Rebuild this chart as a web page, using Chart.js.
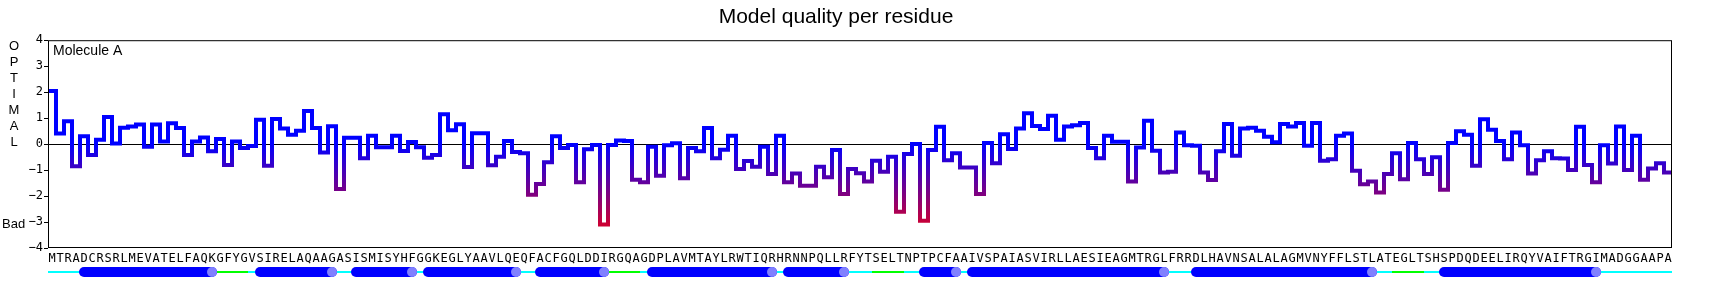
<!DOCTYPE html>
<html>
<head>
<meta charset="utf-8">
<title>Model quality per residue</title>
<script src="https://cdn.jsdelivr.net/npm/chart.js@4.4.0/dist/chart.umd.min.js"></script>
<style>
  html, body { margin: 0; padding: 0; background: #fff; }
  #wrap { width: 1720px; height: 288px; position: relative; }
</style>
</head>
<body>
<div id="wrap"><canvas id="qualityChart"></canvas></div>
<script>
// residue sequence (one x tick label per residue)
const sequence = ('MTRADCRSRLMEVATELFAQKGFYGVSIRELAQAAGASISMISYHFGGKEGLYAAVLQEQ' +
  'FACFGQLDDIRGQAGDPLAVMTAYLRWTIQRHRNNPQLLRFYTSELTNPTPCFAAIVSPAIASVIRLLAE' +
  'SIEAGMTRGLFRRDLHAVNSALALAGMVNYFFLSTLATEGLTSHSPDQDEELIRQYVAIFTRGIMADGGAAPA').split('');

// quality score per residue
const quality = [
  2.04, 0.41, 0.88, -0.85, 0.30, -0.42, 0.17, 1.04, 0.02, 0.63,
  0.68, 0.75, -0.10, 0.75, 0.10, 0.80, 0.62, -0.42, 0.10, 0.25,
  -0.28, 0.20, -0.80, 0.10, -0.15, -0.07, 0.94, -0.83, 0.97, 0.60,
  0.36, 0.51, 1.27, 0.62, -0.32, 0.69, -1.73, 0.24, 0.24, -0.54,
  0.32, -0.12, -0.12, 0.32, -0.27, 0.08, -0.12, -0.53, -0.42, 1.15,
  0.53, 0.76, -0.88, 0.42, 0.42, -0.81, -0.49, 0.12, -0.30, -0.35,
  -1.95, -1.54, -0.70, 0.30, -0.15, -0.03, -1.47, -0.20, -0.03, -3.10,
  -0.03, 0.14, 0.12, -1.37, -1.47, -0.10, -1.22, -0.04, 0.03, -1.31,
  -0.15, -0.28, 0.62, -0.54, -0.22, 0.32, -0.96, -0.65, -0.87, -0.10,
  -1.15, 0.32, -1.47, -1.13, -1.60, -1.60, -0.87, -1.28, -0.23, -1.92,
  -0.96, -1.12, -1.44, -0.64, -1.06, -0.49, -2.60, -0.38, 0.00, -2.95,
  -0.23, 0.67, -0.62, -0.35, -0.90, -0.90, -1.92, 0.04, -0.74, 0.38,
  -0.19, 0.60, 1.19, 0.70, 0.58, 1.09, 0.17, 0.68, 0.73, 0.81,
  -0.15, -0.54, 0.32, 0.09, 0.09, -1.44, -0.13, 0.90, -0.26, -1.09,
  -1.06, 0.45, -0.04, -0.06, -1.09, -1.38, -0.28, 0.77, -0.45, 0.60,
  0.63, 0.51, 0.28, 0.07, 0.77, 0.68, 0.81, -0.06, 0.81, -0.64,
  -0.58, 0.32, 0.41, -1.03, -1.55, -1.44, -1.86, -1.15, -0.35, -1.35,
  0.04, -0.58, -1.15, -0.51, -1.76, 0.04, 0.49, 0.36, -0.83, 0.96,
  0.55, 0.12, -0.58, 0.45, -0.04, -1.13, -0.62, -0.28, -0.54, -0.55,
  -1.00, 0.67, -0.80, -1.47, -0.04, -0.75, 0.68, -1.00, 0.32, -1.37,
  -0.94, -0.74, -1.09
];

// secondary structure: helices (last residue gets the end marker) and turns
const helixRanges = [[4, 20], [26, 35], [38, 45], [47, 58], [61, 69], [75, 90],
  [92, 99], [109, 113], [115, 139], [143, 165], [174, 193]];
const turnRanges = [[21, 24], [70, 73], [103, 106], [168, 171]];

const yMin = -4;
const yMax = 4;
const titleText = 'Model quality per residue';
const moleculeLabel = 'Molecule A';
const optimalLabel = 'OPTIMAL';
const badLabel = 'Bad';

// each residue is a flat step from its left edge to its right edge
const stepPoints = quality.flatMap((v, i) => [{ x: i, y: v }, { x: i + 1, y: v }]);

const fmtTick = v => (v < 0 ? '\u2212' + Math.abs(v) : String(v));

// frame, side labels and the secondary structure strip
const decorPlugin = {
  id: 'decor',
  afterDraw(chart) {
    const { ctx, chartArea: a, scales: { x, y } } = chart;
    ctx.save();
    ctx.strokeStyle = '#000';
    ctx.lineWidth = 1;
    ctx.strokeRect(a.left + 0.5, a.top + 0.5, a.right - a.left - 1, a.bottom - a.top - 1);

    ctx.fillStyle = '#000';
    ctx.textBaseline = 'alphabetic';
    ctx.textAlign = 'left';
    ctx.font = '14px "Liberation Sans", Arial, sans-serif';
    ctx.fillText(moleculeLabel, a.left + 5, a.top + 15);

    ctx.font = '13px "Liberation Sans", Arial, sans-serif';
    ctx.textAlign = 'center';
    optimalLabel.split('').forEach((ch, i) => {
      ctx.fillText(ch, 14, a.top + 9.3 + i * 16.1);
    });
    ctx.textAlign = 'left';
    ctx.fillText(badLabel, 2, y.getPixelForValue(-3) + 6);

    // secondary structure strip
    const ssY = a.bottom + 24;
    ctx.lineCap = 'butt';
    ctx.lineWidth = 2;
    ctx.strokeStyle = '#00ffff';
    ctx.beginPath();
    ctx.moveTo(x.getPixelForValue(0), ssY);
    ctx.lineTo(x.getPixelForValue(sequence.length), ssY);
    ctx.stroke();

    ctx.strokeStyle = '#00ff00';
    turnRanges.forEach(([s, e]) => {
      ctx.beginPath();
      ctx.moveTo(x.getPixelForValue(s), ssY);
      ctx.lineTo(x.getPixelForValue(e + 1), ssY);
      ctx.stroke();
    });

    ctx.lineCap = 'round';
    ctx.lineWidth = 10;
    ctx.strokeStyle = '#0000ff';
    helixRanges.forEach(([s, e]) => {
      ctx.beginPath();
      ctx.moveTo(x.getPixelForValue(s + 0.5), ssY);
      ctx.lineTo(x.getPixelForValue(e + 0.5), ssY);
      ctx.stroke();
    });
    ctx.fillStyle = '#8080ff';
    helixRanges.forEach(([s, e]) => {
      ctx.beginPath();
      ctx.arc(x.getPixelForValue(e + 0.5), ssY, 5, 0, Math.PI * 2);
      ctx.fill();
    });
    ctx.restore();
  }
};

const chart = new Chart(document.getElementById('qualityChart'), {
  type: 'line',
  data: {
    datasets: [{
      label: 'Quality',
      data: stepPoints,
      borderWidth: 4,
      pointRadius: 0,
      tension: 0,
      fill: false,
      borderColor: (c) => {
        const ch = c.chart;
        if (!ch.chartArea) return '#0000ff';
        const ys = ch.scales.y;
        const g = ch.ctx.createLinearGradient(0, ys.getPixelForValue(0), 0, ys.getPixelForValue(-3.1));
        g.addColorStop(0, '#0000ff');
        g.addColorStop(1, '#cc0033');
        return g;
      }
    }]
  },
  options: {
    responsive: true,
    maintainAspectRatio: false,
    animation: false,
    events: [],
    layout: { padding: { left: 0, right: 48, top: 0, bottom: 0 } },
    plugins: {
      legend: { display: false },
      tooltip: { enabled: false },
      title: {
        display: true,
        text: titleText,
        color: '#000',
        font: { family: '"Liberation Sans", Arial, sans-serif', size: 21, weight: 'normal' },
        padding: { top: 5, bottom: 10 }
      }
    },
    scales: {
      x: {
        type: 'linear',
        min: 0,
        max: sequence.length,
        afterBuildTicks: s => { s.ticks = sequence.map((_, i) => ({ value: i + 0.5 })); },
        afterFit: s => { s.height = 40; },
        grid: { display: false, drawTicks: false },
        border: { display: false },
        ticks: {
          autoSkip: false,
          maxRotation: 0,
          minRotation: 0,
          padding: 4,
          color: '#000',
          font: { family: '"DejaVu Sans Mono", monospace', size: 12 },
          callback: (v, i) => sequence[i]
        }
      },
      y: {
        min: yMin,
        max: yMax,
        afterFit: s => { s.width = 48; },
        border: { display: false },
        grid: {
          color: c => (c.tick && c.tick.value === 0 ? '#000' : 'rgba(0,0,0,0)'),
          tickColor: '#000',
          tickLength: 4,
          lineWidth: 1
        },
        ticks: {
          stepSize: 1,
          padding: 1,
          color: '#000',
          font: { family: '"DejaVu Sans Mono", monospace', size: 12 },
          callback: fmtTick
        }
      }
    }
  },
  plugins: [decorPlugin]
});
</script>
</body>
</html>
